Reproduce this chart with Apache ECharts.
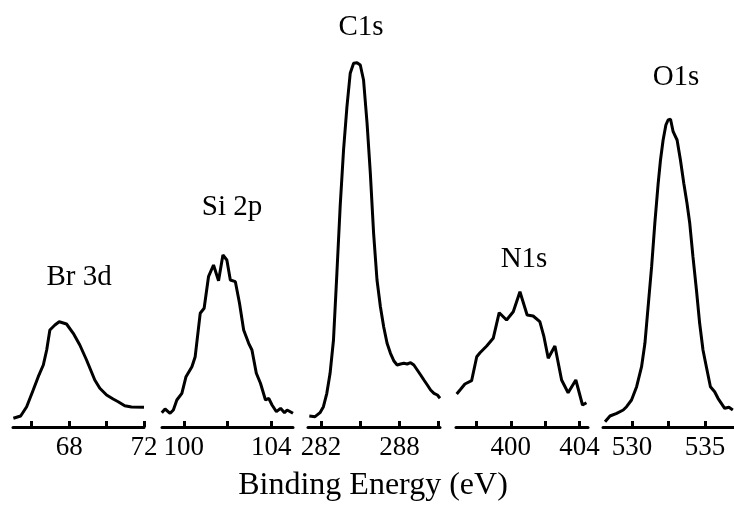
<!DOCTYPE html>
<html lang="en">

<head>
  <meta charset="UTF-8">
  <title>XPS</title>
  <script src="https://cdn.jsdelivr.net/npm/echarts@6/dist/echarts.min.js"></script>
  <style>
    html, body { margin: 0; padding: 0; background: #fff; }
  </style>
</head>

<body>
  <div id="main" style="width: 734px;height:511px;"></div>
  <script>
    // binding energy (eV) / intensity (a.u.) for each core level
    var brE = [65.02, 65.41, 65.73, 66.08, 66.35, 66.62, 66.8, 66.97, 67.24, 67.47, 67.86, 68.22, 68.57, 68.93, 69.37, 69.64, 70.0, 70.35, 70.62, 70.97, 71.33, 72.0];
    var brI = [8.7, 11, 20.3, 37, 50.3, 62, 77, 97, 102, 105.3, 103, 93.7, 82, 67, 47, 38.7, 32, 28, 25.3, 21.3, 20, 19.7];

    var siE = [98.99, 99.14, 99.37, 99.52, 99.68, 99.91, 100.10, 100.37, 100.52, 100.75, 100.93, 101.13, 101.36, 101.59, 101.79, 101.97, 102.13, 102.36, 102.55, 102.74, 102.97, 103.12, 103.32, 103.51, 103.74, 103.89, 104.04, 104.24, 104.43, 104.61, 104.73, 105.0];
    var siI = [14.3, 18, 13.7, 17, 27, 33.7, 50.3, 60.3, 70.3, 113.7, 118.7, 150.3, 162, 146.3, 172, 167, 147, 145.3, 123.7, 97, 83.7, 77, 53.7, 43.7, 27, 28.7, 22, 15.3, 18.7, 14.3, 17, 13.7];

    var cE = [281.10, 281.54, 281.92, 282.18, 282.44, 282.69, 282.95, 283.21, 283.46, 283.72, 283.98, 284.23, 284.49, 284.75, 285.0, 285.25, 285.52, 285.77, 286.02, 286.28, 286.54, 286.79, 287.05, 287.31, 287.56, 287.82, 288.08, 288.33, 288.59, 288.85, 289.1, 289.36, 289.62, 289.87, 290.13, 290.38, 290.64, 290.9, 291.1];
    var cI = [11, 10.3, 14.3, 20.3, 33.7, 53.7, 87, 153.7, 220.3, 277, 320.3, 353.7, 363.7, 364.3, 362, 347, 303.7, 253.7, 193.7, 147, 120.3, 100.3, 83.7, 73.7, 66.3, 62, 63, 63.7, 63, 64.3, 62, 57, 52, 47, 42, 37, 33.7, 32, 28.7];

    var nE = [396.84, 397.07, 397.32, 397.71, 398.01, 398.2, 398.59, 398.97, 399.32, 399.75, 400.14, 400.53, 400.95, 401.3, 401.69, 401.93, 402.18, 402.57, 402.96, 403.34, 403.79, 404.18, 404.41];
    var nI = [33, 37.7, 43, 46.3, 70.3, 74.3, 81, 88.7, 114.3, 107, 115.3, 135.3, 112, 111, 105.3, 90.3, 68.7, 81, 47, 34.3, 47, 22, 24.3];

    var oE = [528.14, 528.48, 528.94, 529.39, 529.62, 529.96, 530.31, 530.65, 530.88, 531.1, 531.34, 531.56, 531.79, 531.95, 532.13, 532.32, 532.47, 532.64, 532.82, 533.09, 533.32, 533.55, 533.77, 533.96, 534.18, 534.42, 534.64, 534.87, 535.1, 535.38, 535.67, 535.9, 536.13, 536.36, 536.65, 536.92];
    var oI = [5.3, 11, 13.7, 17, 20.3, 27, 40.3, 60.3, 83.7, 120.3, 160.3, 203.7, 243.7, 267, 287, 302, 307, 307.7, 295.3, 287, 267, 243.7, 223.7, 203.7, 170.3, 137, 103.7, 77, 60.3, 40.3, 35.3, 28.7, 23.7, 18.7, 19.7, 17];

    // axis ranges, tick positions and labelled ticks
    var xMin = [65, 99, 281, 396.8, 528];
    var xMax = [72, 105, 291.1, 404.5, 537];
    var tickVals = [[66, 68, 70, 72], [100, 102, 104], [282, 285, 288, 291], [398, 400, 402, 404], [530, 532.5, 535]];
    var labelVals = [[68, 72], [100, 104], [282, 288], [400, 404], [530, 535]];
    var peakNames = ['Br 3d', 'Si 2p', 'C1s', 'N1s', 'O1s'];

    var energies = [brE, siE, cE, nE, oE];
    var intens = [brI, siI, cI, nI, oI];

    var gridPos = [[13, 131], [162, 131], [308, 132], [456, 132], [603, 131]];
    var namePos = [[79, 277], [232, 207], [361, 27], [524, 259], [676, 77]];

    var font = '"Liberation Serif", "Times New Roman", serif';

    var myChart = echarts.init(document.getElementById('main'));

    var option = {
      animation: false,
      backgroundColor: '#fff',
      grid: gridPos.map(function (g) {
        return { left: g[0], width: g[1], top: 37, bottom: 84 };
      }),
      xAxis: gridPos.map(function (g, i) {
        return {
          type: 'value',
          gridIndex: i,
          min: xMin[i],
          max: xMax[i],
          splitLine: { show: false },
          axisLine: { onZero: false, lineStyle: { color: '#000', width: 3 } },
          axisTick: { inside: true, length: 6, customValues: tickVals[i], lineStyle: { color: '#000', width: 3 } },
          axisLabel: {
            customValues: labelVals[i],
            margin: 7,
            color: '#000',
            fontSize: 27,
            fontFamily: font,
            showMinLabel: true,
            showMaxLabel: true
          }
        };
      }),
      yAxis: gridPos.map(function (g, i) {
        return { type: 'value', gridIndex: i, min: 0, max: 390, show: false };
      }),
      series: energies.map(function (e, i) {
        return {
          type: 'line',
          xAxisIndex: i,
          yAxisIndex: i,
          showSymbol: false,
          lineStyle: { color: '#000', width: 3 },
          data: e.map(function (v, k) { return [v, intens[i][k]]; })
        };
      }),
      graphic: namePos.map(function (p, i) {
        return {
          type: 'text',
          x: p[0],
          y: p[1],
          style: { text: peakNames[i], font: '29px ' + font, fill: '#000', align: 'center', verticalAlign: 'middle' }
        };
      }).concat([{
        type: 'text',
        x: 373,
        y: 486,
        style: { text: 'Binding Energy (eV)', font: '32px ' + font, fill: '#000', align: 'center', verticalAlign: 'middle' }
      }])
    };

    myChart.setOption(option);
  </script>
</body>

</html>
